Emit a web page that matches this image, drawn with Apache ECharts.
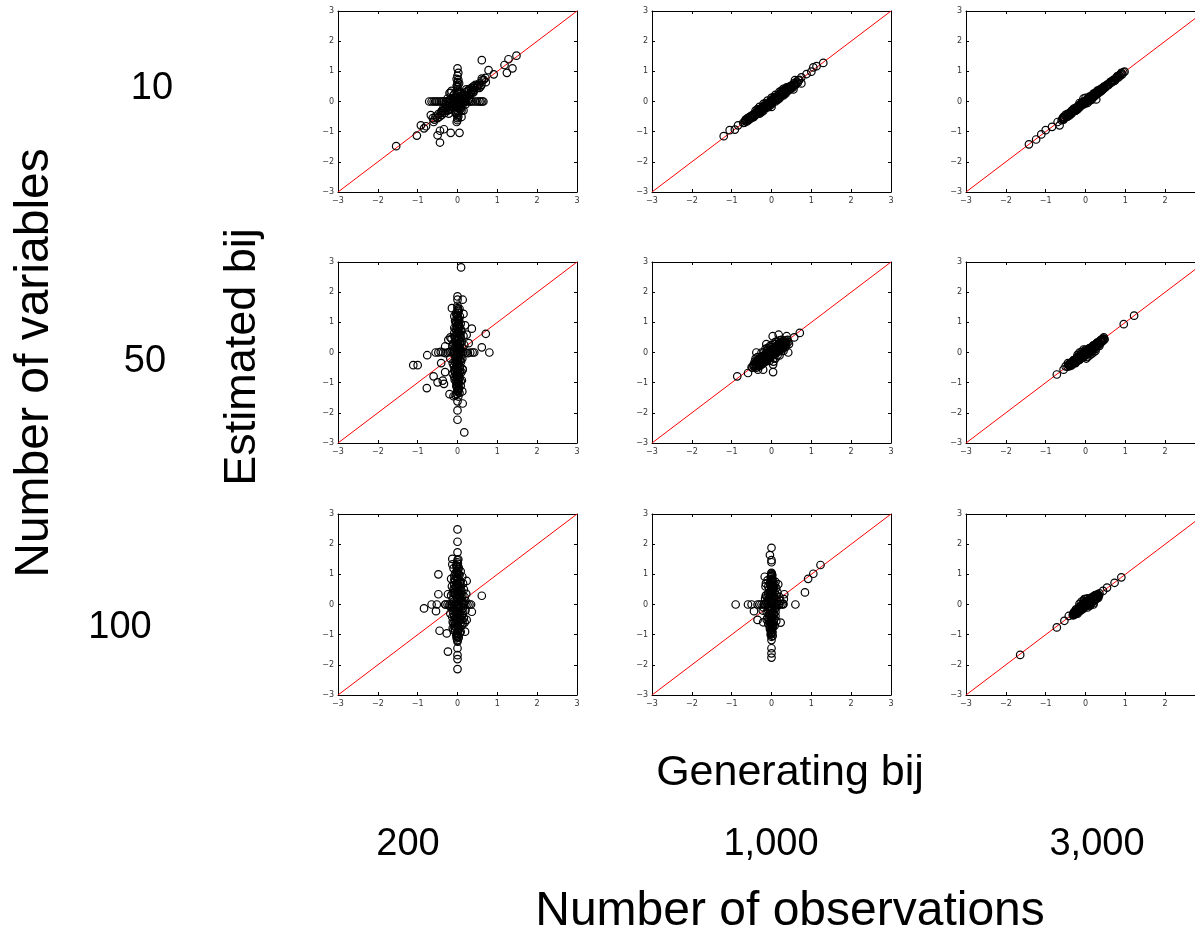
<!DOCTYPE html>
<html>
<head>
<meta charset="utf-8">
<script src="https://cdn.jsdelivr.net/npm/echarts@6/dist/echarts.min.js"></script>
<style>html,body{margin:0;padding:0;background:#fff}#c{width:1195px;height:930px}</style>
</head>
<body>
<div id="c"></div>
<script>
// ---- labels ----
var rowLabels = ['10', '50', '100'];
var colLabels = ['200', '1,000', '3,000'];
var tickValues = [-3, -2, -1, 0, 1, 2, 3];
var diagLine = [[-3, -3], [3, 3]];

// ---- panel data: [generating bij, estimated bij] ----
var p10_200 = [
[-1.54,-1.48],[-1.02,-1.13],[-0.92,-0.79],[-0.79,-0.82],[-0.84,-0.89],[-0.6,-0.68],[-0.67,-0.45],[-0.5,-1.12],[-0.44,-1.36],[-0.44,-0.97],[-0.34,-0.92],[-0.17,-1.04],[0.05,-1.04],[0.1,-0.51],[-0.02,-0.68],[0.61,1.37],[0.78,1.04],[0.91,0.9],[1.18,1.21],[1.28,1.4],[1.48,1.52],[1.24,0.95],[1.38,1.1],[0.61,0.76],[0.71,0.64],[0.65,0],[0.49,0.51],
[0,1.1],[0,0.85],[0,0.64],[0,0.47],[0,0.35],[0,0.25],[0,-0.3],[0,-0.45],[0,-0.55],[0,-0.62],[0.02,0.95],[-0.02,0.75],
[-0.71,0],[-0.6,0],[-0.52,0],[-0.47,0],[-0.42,0],[-0.35,0],[-0.3,0],[-0.25,0],[-0.2,0],[-0.15,0],[-0.1,0],[0.1,0],[0.15,0],[0.2,0],[0.25,0],[0.3,0],[0.38,0],[0.45,0],[0.55,0],[0.62,0],
[-0.55,-0.5],[-0.48,-0.42],[-0.4,-0.45],[-0.38,-0.3],[-0.32,-0.38],[-0.3,-0.2],[-0.25,-0.3],[-0.22,-0.15],[-0.18,-0.25],[-0.15,-0.1],[-0.12,-0.2],[-0.1,-0.05],[-0.08,0.1],[-0.05,-0.12],[-0.03,0.05],[0.03,-0.05],[0.05,0.12],[0.08,0.02],[0.1,0.18],[0.12,0.08],[0.15,0.25],[0.18,0.12],[0.2,0.3],[0.22,0.18],[0.25,0.35],[0.28,0.22],[0.3,0.4],[0.33,0.28],[0.35,0.45],[0.38,0.3],[0.4,0.5],[0.42,0.38],[0.45,0.55],[0.5,0.45],[0.55,0.6],[0.58,0.5],[-0.2,0.28],[-0.17,0.29],[0.1,-0.3],[0.12,-0.15],[-0.1,0.2],[0.05,0.3],[0.05,-0.25],[-0.05,-0.35],[0.2,-0.1],[-0.25,0.1],[0.3,0.1],[-0.3,-0.1],
[-0.05,0.02],[0.02,0.08],[-0.08,-0.08],[0.06,-0.1],[-0.12,0.05],[0.1,0.05],[-0.02,-0.18],[0.0,0.15],[-0.15,-0.18],[0.15,0.12],[-0.2,-0.05],[0.18,0.02],[-0.1,0.12],[0.08,-0.18],[-0.25,-0.22],[0.25,0.2],[-0.28,0.0],[0.28,0.05],[0.0,-0.08],[0.0,0.05],[-0.03,0.2],[0.03,-0.22],[-0.35,-0.32],[0.35,0.32],[-0.42,-0.38],[0.42,0.45],[0.48,0.5],[0.52,0.55],[-0.5,-0.55],[-0.45,-0.5],[0,0.55],[0,0.4],[0,-0.2],[0.04,0.6],[-0.04,-0.4],[0.62,0.7],[0.66,0.72],[0.7,0.78],[-0.58,-0.6],[-0.62,-0.55],[0.55,0.45],[0.6,0.55],[-0.15,0.35],[0.15,-0.3],[0.22,0.4],[-0.22,-0.4],
[-0.06,0.1],[0.06,0.0],[-0.1,-0.12],[0.12,-0.06],[-0.18,0.08],[0.18,0.2],[-0.22,-0.28],[0.22,0.1],[0.0,0.28],[0.0,-0.15],[-0.08,0.25],[0.08,-0.25],[-0.3,-0.28],[0.3,0.25],[-0.35,-0.2],[0.35,0.38],[-0.4,-0.32],[0.4,0.3],[0.02,0.72],[-0.02,0.52],[0.02,-0.5],[0,-0.38],[-0.65,0],[-0.56,0],[0.5,0],[0.58,0],[0.34,0],[-0.38,0]
];
var p10_1000 = [
[-1.2,-1.15],[-1.05,-0.95],[-0.92,-0.93],[-0.84,-0.79],[-0.71,-0.71],[0.55,0.4],[0.59,0.71],[0.75,0.6],[0.75,0.8],[0.88,0.91],[1.0,0.99],[1.05,1.13],[1.13,1.17],[1.3,1.28],[0,-0.18],[0.38,0.47],
[-0.68,-0.7],[-0.65,-0.6],[-0.62,-0.66],[-0.6,-0.55],[-0.57,-0.6],[-0.54,-0.5],[-0.52,-0.56],[-0.49,-0.46],[-0.47,-0.52],[-0.44,-0.42],[-0.42,-0.47],[-0.39,-0.36],[-0.37,-0.42],[-0.34,-0.31],[-0.32,-0.37],[-0.29,-0.26],[-0.27,-0.32],[-0.24,-0.2],[-0.22,-0.27],[-0.19,-0.15],[-0.17,-0.22],[-0.14,-0.1],[-0.12,-0.17],[-0.09,-0.05],[-0.07,-0.12],[-0.04,0.0],[-0.02,-0.07],[0.0,0.05],[0.02,-0.03],[0.05,0.1],[0.07,0.02],[0.1,0.15],[0.12,0.07],[0.15,0.2],[0.17,0.11],[0.2,0.25],[0.22,0.16],[0.25,0.3],[0.27,0.21],[0.3,0.35],[0.32,0.26],[0.35,0.4],[0.37,0.31],[0.4,0.45],[0.42,0.36],[0.45,0.49],[0.48,0.42],[0.5,0.53],[0.53,0.46],[0.56,0.6],[0.6,0.55],[0.63,0.66],[0.66,0.62],[0.7,0.72],
[-0.66,-0.65],[-0.58,-0.62],[-0.55,-0.55],[-0.5,-0.5],[-0.45,-0.47],[-0.4,-0.4],[-0.36,-0.38],[-0.31,-0.29],[-0.26,-0.28],[-0.21,-0.19],[-0.16,-0.18],[-0.11,-0.09],[-0.06,-0.08],[-0.01,0.01],[0.04,0.02],[0.09,0.1],[0.14,0.12],[0.19,0.2],[0.24,0.22],[0.29,0.3],[0.34,0.32],[0.39,0.4],[0.44,0.42],[0.49,0.5],[0.55,0.52],[-0.3,-0.4],[-0.2,-0.3],[-0.1,-0.2],[0.0,-0.1],[0.1,0.0],[0.2,0.1],[0.3,0.2],[-0.4,-0.3],[-0.3,-0.18],[-0.2,-0.08],[-0.1,0.03],[0.0,0.12],[0.1,0.22],[0.2,0.32],[0.3,0.42],[0.62,0.58],[0.68,0.7],
[-0.63,-0.6],[-0.53,-0.52],[-0.43,-0.44],[-0.33,-0.34],[-0.23,-0.24],[-0.13,-0.13],[-0.03,-0.04],[0.07,0.06],[0.17,0.17],[0.27,0.26],[0.37,0.37],[0.47,0.46],[0.57,0.56],[-0.35,-0.25],[-0.15,-0.05],[0.05,0.15],[0.25,0.36],[-0.25,-0.35],[-0.05,-0.15],[0.15,0.05],[0.35,0.26],[0.45,0.4],[-0.45,-0.52]
];
var p10_3000 = [
[-1.42,-1.42],[-1.24,-1.26],[-1.11,-1.09],[-1.0,-0.95],[-0.84,-0.84],[-0.7,-0.68],[-0.65,-0.79],[0.27,0.07],[0.98,0.99],[0.85,0.87],
[-0.6,-0.62],[-0.57,-0.55],[-0.54,-0.57],[-0.5,-0.49],[-0.47,-0.5],[-0.44,-0.42],[-0.41,-0.44],[-0.38,-0.36],[-0.35,-0.38],[-0.32,-0.3],[-0.29,-0.32],[-0.26,-0.23],[-0.23,-0.26],[-0.2,-0.17],[-0.17,-0.2],[-0.14,-0.11],[-0.11,-0.14],[-0.08,-0.05],[-0.05,-0.08],[-0.02,0.01],[0.01,-0.02],[0.04,0.07],[0.07,0.03],[0.1,0.13],[0.13,0.09],[0.16,0.19],[0.19,0.15],[0.22,0.25],[0.25,0.21],[0.28,0.31],[0.31,0.27],[0.34,0.37],[0.37,0.33],[0.4,0.43],[0.43,0.39],[0.46,0.49],[0.5,0.47],[0.54,0.56],[0.58,0.55],[0.62,0.64],[0.66,0.63],[0.7,0.72],[0.74,0.7],[0.78,0.8],[0.82,0.79],[0.88,0.9],[0.92,0.9],[0.95,0.97],[-0.05,0.1],[0.0,0.12],[0.05,-0.05],[0.15,0.05],[-0.15,-0.05],
[-0.58,-0.58],[-0.52,-0.53],[-0.46,-0.46],[-0.4,-0.39],[-0.34,-0.34],[-0.28,-0.27],[-0.22,-0.22],[-0.16,-0.15],[-0.1,-0.1],[-0.04,-0.03],[0.02,0.03],[0.08,0.08],[0.14,0.15],[0.2,0.2],[0.26,0.26],[0.32,0.32],[0.38,0.39],[0.44,0.44],[0.52,0.52],[0.6,0.6],[0.68,0.68],[0.76,0.76],[-0.3,-0.24],[-0.2,-0.26],[-0.1,-0.04],[0.0,-0.06],[0.1,0.16],[0.2,0.14],[0.3,0.36],[0.4,0.35],[-0.4,-0.46],[-0.5,-0.44],[0.1,0.03],[0.2,0.26],[-0.25,-0.3],[0.35,0.3],[0.9,0.95],[0.86,0.84],[0.8,0.84],[0.72,0.68],
[-0.55,-0.51],[-0.45,-0.41],[-0.35,-0.31],[-0.25,-0.21],[-0.15,-0.11],[-0.05,-0.01],[0.05,0.09],[0.15,0.19],[0.25,0.29],[0.35,0.39],[0.45,0.47],[-0.55,-0.6],[-0.45,-0.5],[-0.35,-0.4],[-0.25,-0.3],[-0.15,-0.2],[-0.05,-0.1],[0.05,0.0],[0.15,0.1],[0.25,0.2],[0.35,0.34],[0.45,0.42],[0.56,0.54],[0.64,0.66]
];
var p50_200 = [
[0.09,2.82],[0,1.86],[0,1.75],[0.13,1.75],[-0.14,1.47],[0,1.47],[0.15,1.28],[0.19,0.9],[0.36,0.79],[0.71,0.62],[0.61,0.17],[0.8,0],[-0.76,-0.09],[-1.11,-0.42],[-1.0,-0.42],[-0.6,-0.79],[-0.77,-1.18],[-0.5,-0.99],[-0.37,-0.93],[-0.34,-1.04],[-0.31,-0.65],[-0.41,-0.35],[-0.2,-1.38],[-0.1,-1.45],[0,-1.62],[0.13,-1.69],[0,-1.92],[0,-2.23],[0.17,-2.65],[0.12,-1.29],[0.11,-0.92],[0.13,-0.57],[-0.23,0.42],[-0.18,0.5],[0.23,0.59],[0.28,0.31],[-0.31,0.2],
[0,1.55],[0.03,1.38],[-0.02,1.25],[0.02,1.15],[0,1.05],[-0.04,0.97],[0.04,0.9],[0,0.82],[-0.03,0.75],[0.03,0.68],[0.06,0.6],[-0.06,0.55],[0,0.5],[0.04,0.43],[-0.03,0.38],[0.02,0.32],[0.07,0.27],[-0.05,0.22],[0,0.17],[0.04,0.12],[-0.02,0.08],[0.05,0.04],[-0.06,-0.04],[0.02,-0.08],[0,-0.13],[-0.04,-0.18],[0.05,-0.23],[0.01,-0.28],[-0.05,-0.33],[0.03,-0.38],[0,-0.44],[0.06,-0.5],[-0.03,-0.55],[0.02,-0.62],[0,-0.68],[-0.04,-0.75],[0.04,-0.82],[0,-0.9],[0.02,-0.98],[-0.02,-1.06],[0,-1.14],[0.03,-1.22],[0,-1.3],[-0.02,-1.38],[0.02,-1.46],[0.08,0.95],[0.1,0.7],[-0.08,0.65],[0.1,0.35],[-0.1,0.3],[0.09,-0.3],[-0.09,-0.45],[0.1,-0.65],[-0.07,-0.9],[0.08,-1.1],[0.06,1.2],[-0.06,1.05],[0.15,0.55],[-0.15,0.45],[0.13,-0.55],[-0.12,-0.7],[0.17,0.25],[-0.18,-0.2],
[-0.55,0],[-0.48,0],[-0.42,0.02],[-0.36,0],[-0.3,-0.02],[-0.25,0],[-0.2,0.02],[-0.15,0],[-0.1,-0.02],[0.1,0],[0.15,0.02],[0.2,0],[0.26,-0.02],[0.32,0],[0.38,0],[0.42,0],
[0.01,1.32],[-0.01,1.2],[0.04,1.1],[-0.03,1.0],[0.01,0.93],[0.05,0.85],[-0.05,0.78],[0.02,0.72],[-0.01,0.64],[0.07,0.58],[-0.07,0.5],[0.03,0.46],[-0.02,0.42],[0.06,0.35],[-0.04,0.3],[0.01,0.25],[-0.06,0.15],[0.06,0.1],[0.02,0.02],[-0.02,-0.02],[0.05,-0.1],[-0.05,-0.15],[0.01,-0.2],[0.07,-0.26],[-0.07,-0.3],[0.03,-0.35],[-0.02,-0.42],[0.05,-0.46],[-0.05,-0.52],[0.01,-0.58],[0.06,-0.64],[-0.06,-0.66],[0.02,-0.72],[-0.02,-0.8],[0.05,-0.86],[-0.04,-0.95],[0.03,-1.02],[-0.03,-1.12],[0.04,-1.18],[-0.01,-1.26],[0.05,-1.34],[0.01,1.42],[-0.04,1.3],[0.08,0.5],[-0.1,0.1],[0.1,-0.1],[-0.08,-0.6],[0.12,0.15],[-0.12,0.2],[0.12,-0.2],[-0.12,-0.35],
[0.0,1.18],[0.02,1.08],[-0.02,0.88],[0.0,0.78],[0.03,0.62],[-0.03,0.46],[0.0,0.3],[0.02,0.2],[-0.02,0.14],[0.0,0.06],[0.0,-0.05],[0.02,-0.16],[-0.02,-0.25],[0.0,-0.35],[0.02,-0.48],[-0.02,-0.6],[0.0,-0.78],[0.02,-0.93],[-0.02,-1.0],[0.0,-1.1],[0.02,-1.28],[-0.08,0.82],[0.08,0.78],[-0.09,0.0],[0.09,0.05],[-0.08,-0.8],[0.08,-0.95],[-0.08,1.2],[0.05,1.45],[-0.05,-1.42]
];
var p50_1000 = [
[-0.86,-0.79],[-0.59,-0.68],[-0.5,-0.49],[-0.38,0],[-0.34,-0.57],[-0.21,-0.57],[0.04,-0.65],[0.04,-0.4],[-0.13,0.28],[0.03,0.54],[0.18,0.59],[0.42,0],[0.44,0.28],[0.57,0.5],[0.71,0.65],[0.38,0.54],
[-0.48,-0.5],[-0.45,-0.4],[-0.42,-0.47],[-0.4,-0.33],[-0.38,-0.42],[-0.35,-0.28],[-0.33,-0.38],[-0.3,-0.22],[-0.3,-0.45],[-0.28,-0.32],[-0.25,-0.15],[-0.25,-0.4],[-0.22,-0.25],[-0.2,-0.1],[-0.2,-0.35],[-0.18,-0.2],[-0.15,-0.05],[-0.15,-0.3],[-0.12,-0.14],[-0.1,0.0],[-0.1,-0.25],[-0.08,-0.08],[-0.05,0.05],[-0.05,-0.18],[-0.03,-0.03],[0,0.1],[0,-0.12],[0.02,0.02],[0.05,0.15],[0.05,-0.08],[0.07,0.06],[0.1,0.2],[0.1,-0.03],[0.12,0.1],[0.15,0.25],[0.15,0.02],[0.17,0.14],[0.2,0.3],[0.2,0.07],[0.22,0.18],[0.25,0.33],[0.25,0.12],[0.28,0.22],[0.3,0.38],[0.3,0.17],[0.33,0.27],[0.35,0.4],[0.37,0.3],[0.4,0.42],[0.42,0.35],[-0.35,-0.15],[-0.25,0.0],[-0.15,0.12],[0.1,-0.2],[0.2,-0.1],[0.3,0.05],[-0.4,-0.2],[0,0.25],[0.05,-0.3],[-0.1,0.15],[0.25,0.42],[0.35,0.18],
[-0.4,-0.4],[-0.35,-0.35],[-0.3,-0.3],[-0.25,-0.25],[-0.2,-0.2],[-0.15,-0.15],[-0.1,-0.1],[-0.05,-0.05],[0,0],[0.05,0.05],[0.1,0.1],[0.15,0.15],[0.2,0.2],[0.25,0.25],[0.3,0.3],[0.35,0.33],[-0.42,-0.3],[-0.32,-0.2],[-0.22,-0.12],[-0.12,-0.03],[-0.02,0.07],[0.08,0.15],[0.18,0.23],[0.28,0.32],[-0.38,-0.5],[-0.28,-0.4],[-0.18,-0.3],[-0.08,-0.2],[0.02,-0.08],[0.12,0.02],[0.22,0.1],[0.32,0.2],[-0.1,0.08],[0.0,0.18],[0.1,0.28],[-0.2,0.0],[0.15,-0.1],[0.05,-0.2],[-0.05,-0.28],[0.25,0.05],
[-0.45,-0.45],[-0.37,-0.32],[-0.27,-0.22],[-0.17,-0.12],[-0.07,-0.02],[0.03,0.08],[0.13,0.18],[0.23,0.28],[0.33,0.36],[-0.33,-0.45],[-0.23,-0.35],[-0.13,-0.25],[-0.03,-0.15],[0.07,-0.05],[0.17,0.05],[0.27,0.15],[0.37,0.25],[-0.05,0.2],[0.1,0.35],[0.2,0.4]
];
var p50_3000 = [
[-0.72,-0.73],[-0.55,-0.57],[-0.5,-0.46],[-0.44,-0.35],[0.02,-0.2],[0.46,0.5],[0.96,0.94],[1.22,1.22],
[-0.45,-0.47],[-0.42,-0.4],[-0.4,-0.45],[-0.37,-0.35],[-0.35,-0.4],[-0.32,-0.3],[-0.3,-0.36],[-0.27,-0.25],[-0.25,-0.32],[-0.22,-0.2],[-0.2,-0.27],[-0.17,-0.15],[-0.15,-0.22],[-0.12,-0.1],[-0.1,-0.17],[-0.07,-0.05],[-0.05,-0.12],[-0.02,0.0],[0,-0.07],[0.03,0.05],[0.05,-0.02],[0.08,0.1],[0.1,0.03],[0.13,0.15],[0.15,0.08],[0.18,0.2],[0.2,0.13],[0.23,0.25],[0.25,0.18],[0.28,0.3],[0.3,0.23],[0.33,0.35],[0.35,0.28],[0.38,0.4],[0.4,0.34],[0.43,0.45],[0.45,0.4],[0.1,-0.1],[0.2,0.0],[-0.1,0.02],[0.0,0.1],[-0.2,-0.08],
[-0.43,-0.42],[-0.38,-0.37],[-0.33,-0.32],[-0.28,-0.28],[-0.23,-0.22],[-0.18,-0.18],[-0.13,-0.13],[-0.08,-0.08],[-0.03,-0.03],[0.02,0.02],[0.07,0.06],[0.12,0.12],[0.17,0.16],[0.22,0.21],[0.27,0.26],[0.32,0.31],[0.37,0.36],[0.42,0.41],[-0.3,-0.25],[-0.2,-0.14],[-0.1,-0.04],[0.0,0.06],[0.1,0.15],[0.2,0.24],[0.3,0.33],[-0.35,-0.43],[-0.25,-0.35],[-0.15,-0.25],[-0.05,-0.16],[0.05,-0.06],[0.15,0.03],[0.25,0.12],[0.35,0.22],[0.05,-0.15],[0.15,-0.05],[0.25,0.05],[-0.15,0.0],[-0.05,0.1],[0.45,0.46],[0.48,0.44],
[-0.41,-0.38],[-0.31,-0.28],[-0.21,-0.18],[-0.11,-0.08],[-0.01,0.02],[0.09,0.12],[0.19,0.22],[0.29,0.32],[0.39,0.42],[-0.39,-0.44],[-0.29,-0.34],[-0.19,-0.24],[-0.09,-0.14],[0.01,-0.04],[0.11,0.06],[0.21,0.16],[0.31,0.26],[0.41,0.37]
];
var p100_200 = [
[0,2.49],[0,2.08],[0,1.73],[0,1.47],[-0.13,1.51],[-0.13,1.33],[-0.48,1.0],[0.23,0.78],[-0.48,0.34],[-0.24,0.34],[0.61,0.29],[-0.65,0],[-0.52,0],[-0.84,-0.13],[-0.54,-0.22],[0.34,0],[0.36,-0.24],[0.23,-0.51],[-0.45,-0.87],[-0.27,-0.96],[0.19,-0.9],[-0.24,-1.56],[0,-1.23],[0,-1.45],[0,-1.68],[0,-1.81],[0,-2.14],[-0.31,0],
[0,1.4],[-0.03,1.3],[0.03,1.22],[0,1.12],[-0.05,1.05],[0.05,0.98],[0,0.9],[-0.08,0.82],[0.08,0.76],[0,0.7],[-0.04,0.62],[0.04,0.56],[-0.1,0.5],[0.1,0.45],[0,0.4],[-0.06,0.33],[0.06,0.28],[0,0.22],[-0.12,0.18],[0.12,0.12],[-0.03,0.08],[0.04,0.03],[-0.08,-0.03],[0.09,-0.08],[0,-0.12],[-0.05,-0.18],[0.05,-0.24],[-0.1,-0.3],[0.11,-0.35],[0,-0.4],[-0.06,-0.46],[0.06,-0.52],[-0.12,-0.58],[0.13,-0.63],[0,-0.68],[-0.05,-0.75],[0.05,-0.8],[-0.1,-0.85],[0.08,-0.9],[0,-0.96],[-0.03,-1.03],[0.03,-1.1],[0,-1.18],[0.15,0.05],[-0.15,-0.1],[0.16,-0.45],[-0.16,0.3],[0.2,-0.2],[-0.14,0.6],[0.14,0.7],[-0.12,-0.78],[0.18,0.25],[0.02,1.5],[-0.02,0.0],[0.07,0.15],[-0.07,-0.55],
[-0.3,0],[-0.25,0],[-0.2,0],[-0.15,0],[0.15,0],[0.2,0],[0.25,0],[0.3,0],
[0.01,1.35],[-0.02,1.25],[0.02,1.17],[-0.01,1.08],[0.03,1.0],[-0.04,0.94],[0.01,0.86],[-0.06,0.78],[0.06,0.72],[-0.02,0.66],[0.02,0.6],[-0.07,0.54],[0.07,0.5],[0.0,0.45],[-0.09,0.4],[0.09,0.36],[-0.03,0.3],[0.03,0.26],[-0.1,0.1],[0.1,0.05],[0.01,-0.05],[-0.1,-0.15],[0.1,-0.2],[-0.02,-0.28],[0.02,-0.33],[-0.08,-0.4],[0.08,-0.44],[-0.01,-0.5],[-0.1,-0.62],[0.1,-0.7],[0.01,-0.78],[-0.06,-0.86],[0.06,-0.94],[0.0,-1.05],[-0.02,-1.12],[0.12,0.3],[-0.12,0.38],[0.14,-0.12],[-0.14,0.0],[0.13,-0.28],[-0.13,-0.42],[0.12,0.92],[-0.1,1.2],[0.2,0.12],[-0.2,-0.05],[0.22,0.35],[0.18,-0.6],[-0.18,-0.3],[0.16,0.5],[-0.16,0.85],
[0.0,1.28],[0.0,1.02],[0.0,0.8],[0.02,0.64],[-0.02,0.48],[0.0,0.35],[0.02,0.18],[-0.02,0.12],[0.0,0.02],[0.02,-0.1],[-0.02,-0.22],[0.0,-0.3],[0.02,-0.45],[-0.02,-0.6],[0.0,-0.72],[0.02,-0.88],[-0.02,-0.98],[0.0,-1.08],[-0.08,0.95],[0.08,1.1],[-0.08,0.65],[0.08,0.6],[-0.08,-0.7],[0.08,-0.6],[-0.12,-0.2],[0.12,-0.5]
];
var p100_1000 = [
[-0.9,0],[-0.59,0],[-0.5,0],[-0.44,-0.22],[-0.35,-0.51],[-0.21,-0.59],[0.23,-0.6],[0.17,0.67],[0,1.88],[-0.04,1.64],[0,1.47],[0,1.4],[-0.17,0.92],[0,1.03],[-0.14,0.7],[0.6,0],[0.84,0.4],[0.92,0.85],[1.05,1.02],[1.23,1.31],[0,-1.18],[0,-1.45],[0,-1.62],[0,-1.76],[0.29,0],[0.31,0.18],[0.32,0.34],[-0.14,0.29],
[0,1.05],[0.02,0.97],[-0.02,0.9],[0,0.83],[0.04,0.76],[-0.04,0.7],[0,0.63],[0.06,0.57],[-0.06,0.5],[0,0.45],[0.08,0.4],[-0.08,0.35],[0.03,0.3],[-0.03,0.25],[0.1,0.2],[-0.1,0.15],[0,0.1],[0.05,0.05],[-0.05,-0.05],[0,-0.1],[0.08,-0.15],[-0.08,-0.2],[0.03,-0.26],[-0.03,-0.32],[0.1,-0.38],[-0.1,-0.43],[0,-0.48],[0.05,-0.55],[-0.05,-0.6],[0,-0.67],[0.04,-0.73],[-0.04,-0.8],[0,-0.86],[0.02,-0.93],[-0.02,-1.0],[0,-1.07],[0.12,0.55],[-0.12,-0.25],[0.14,0.1],[-0.14,0.3],[0.12,-0.55],[-0.15,0.6],[0.2,0.25],[-0.2,-0.1],
[-0.35,0],[-0.3,0],[-0.25,0],[-0.2,0],[-0.15,0],[0.15,0],[0.2,0],[0.25,0],[0.3,0.02],
[0.01,1.0],[-0.01,0.93],[0.02,0.86],[-0.02,0.79],[0.01,0.72],[-0.03,0.66],[0.03,0.6],[-0.01,0.54],[0.04,0.48],[-0.04,0.42],[0.01,0.36],[0.06,0.28],[-0.06,0.22],[0.02,0.18],[-0.02,0.12],[0.08,0.08],[-0.08,0.04],[0.01,0.0],[0.08,-0.05],[-0.08,-0.1],[0.02,-0.16],[-0.02,-0.22],[0.06,-0.3],[-0.06,-0.36],[0.01,-0.42],[0.07,-0.47],[-0.07,-0.52],[0.02,-0.58],[-0.02,-0.64],[0.03,-0.7],[-0.03,-0.76],[0.01,-0.83],[0.02,-0.9],[-0.01,-0.97],[0.03,-1.04],[0.12,0.3],[-0.12,0.05],[0.12,-0.1],[-0.12,-0.5],[0.15,0.4],[-0.16,0.2],[0.1,0.75],[-0.1,0.8],[0.18,0.0],[-0.18,0.0],[0.22,0.12],[-0.22,-0.2],
[0.0,0.95],[0.0,0.75],[0.0,0.55],[0.02,0.4],[-0.02,0.32],[0.0,0.2],[0.02,0.05],[-0.02,-0.05],[0.0,-0.2],[0.02,-0.35],[-0.02,-0.45],[0.0,-0.6],[0.02,-0.78],[-0.02,-0.88],[0.0,-0.95],[-0.08,0.6],[0.08,0.65],[-0.08,-0.65],[0.08,-0.7],[-0.1,0.25],[0.1,-0.25]
];
var p100_3000 = [
[-1.64,-1.67],[-0.72,-0.76],[-0.53,-0.54],[-0.42,-0.38],[-0.3,-0.35],[0.44,0.45],[0.54,0.56],[0.73,0.72],[0.9,0.9],[-0.03,0.18],[0.31,0.34],
[-0.32,-0.35],[-0.3,-0.28],[-0.27,-0.32],[-0.25,-0.22],[-0.22,-0.27],[-0.2,-0.16],[-0.18,-0.22],[-0.15,-0.1],[-0.13,-0.17],[-0.1,-0.04],[-0.08,-0.12],[-0.05,0.02],[-0.03,-0.07],[0,0.07],[0.02,-0.02],[0.05,0.12],[0.07,0.03],[0.1,0.17],[0.12,0.08],[0.15,0.22],[0.17,0.13],[0.2,0.27],[0.22,0.18],[0.25,0.31],[0.27,0.22],[0.3,0.33],[0.32,0.27],[0.35,0.37],[-0.1,0.1],[0.0,0.18],[0.1,-0.05],[0.2,0.05],[-0.2,-0.3],[0.05,-0.1],
[-0.3,-0.31],[-0.26,-0.26],[-0.22,-0.22],[-0.18,-0.18],[-0.14,-0.14],[-0.1,-0.1],[-0.06,-0.06],[-0.02,-0.02],[0.02,0.02],[0.06,0.06],[0.1,0.1],[0.14,0.14],[0.18,0.18],[0.22,0.22],[0.26,0.26],[0.3,0.28],[-0.24,-0.16],[-0.16,-0.08],[-0.08,0.0],[0.0,0.1],[0.08,0.16],[0.16,0.24],[0.24,0.3],[-0.24,-0.3],[-0.16,-0.24],[-0.08,-0.16],[0.0,-0.06],[0.08,0.0],[0.16,0.08],[0.24,0.14],[0.32,0.22],[0.12,-0.02],[-0.05,0.12],[0.05,0.2],[0.2,0.0],[-0.15,0.02],
[-0.28,-0.24],[-0.2,-0.2],[-0.12,-0.08],[-0.04,-0.02],[0.04,0.08],[0.12,0.14],[0.2,0.2],[0.28,0.3],[-0.28,-0.34],[-0.12,-0.2],[-0.04,-0.12],[0.04,-0.02],[0.12,0.04],[0.2,0.12],[0.28,0.2],[0.34,0.3]
];

var panels = [
  [p10_200, p10_1000, p10_3000],
  [p50_200, p50_1000, p50_3000],
  [p100_200, p100_1000, p100_3000]
];

// ---- layout ----
var colLeft = [338, 652, 966];
var rowTop = [11, 262, 514];
var pw = 239, ph = 181;

var grids = [], xAxes = [], yAxes = [], series = [];
function fmt(v) { return String(v).replace('-', '\u2212'); }
var labelStyle = { fontSize: 8, color: '#333', fontFamily: 'DejaVu Sans', formatter: fmt };
var lineStyle = { color: '#000', width: 1 };

for (var r = 0; r < 3; r++) {
  for (var c = 0; c < 3; c++) {
    var gi = grids.length;
    grids.push({ left: colLeft[c], top: rowTop[r], width: pw, height: ph, containLabel: false, outerBoundsMode: 'none' });
    var base = { type: 'value', min: tickValues[0], max: tickValues[tickValues.length - 1], interval: 1, gridIndex: gi, splitLine: { show: false },
      axisLine: { show: true, onZero: false, lineStyle: lineStyle },
      axisTick: { show: true, inside: true, length: 3, lineStyle: lineStyle } };
    xAxes.push(Object.assign({}, base, { position: 'bottom', axisLabel: Object.assign({ margin: 5 }, labelStyle) }));
    xAxes.push(Object.assign({}, base, { position: 'top', axisLabel: { show: false } }));
    yAxes.push(Object.assign({}, base, { position: 'left', axisLabel: Object.assign({ margin: 4 }, labelStyle) }));
    yAxes.push(Object.assign({}, base, { position: 'right', axisLabel: { show: false } }));
    series.push({ type: 'line', xAxisIndex: gi * 2, yAxisIndex: gi * 2, data: diagLine, symbol: 'none',
      lineStyle: { color: '#ff0000', width: 1 }, silent: true, z: 1, animation: false });
    series.push({ type: 'scatter', xAxisIndex: gi * 2, yAxisIndex: gi * 2, data: panels[r][c], symbol: 'circle', symbolSize: 7.5,
      itemStyle: { color: 'rgba(0,0,0,0)', borderColor: '#000', borderWidth: 1.2, opacity: 1 }, silent: true, z: 2, animation: false });
  }
}

var font = 'Liberation Sans, Arial, sans-serif';
var graphics = [];
var rowLabelPos = [[152, 89], [145, 362], [120, 628]];
rowLabels.forEach(function (t, i) {
  graphics.push({ type: 'text', x: rowLabelPos[i][0], y: rowLabelPos[i][1],
    style: { text: t, font: '38px ' + font, fill: '#000', textAlign: 'center', textVerticalAlign: 'middle' } });
});
var colLabelX = [408, 771, 1097];
colLabels.forEach(function (t, i) {
  graphics.push({ type: 'text', x: colLabelX[i], y: 845,
    style: { text: t, font: '38px ' + font, fill: '#000', textAlign: 'center', textVerticalAlign: 'middle' } });
});
graphics.push({ type: 'text', x: 35, y: 363, rotation: Math.PI / 2,
  style: { text: 'Number of variables', font: '48px ' + font, fill: '#000', textAlign: 'center', textVerticalAlign: 'middle' } });
graphics.push({ type: 'text', x: 243, y: 357, rotation: Math.PI / 2,
  style: { text: 'Estimated bij', font: '45px ' + font, fill: '#000', textAlign: 'center', textVerticalAlign: 'middle' } });
graphics.push({ type: 'text', x: 790, y: 773,
  style: { text: 'Generating bij', font: '43px ' + font, fill: '#000', textAlign: 'center', textVerticalAlign: 'middle' } });
graphics.push({ type: 'text', x: 790, y: 912,
  style: { text: 'Number of observations', font: '48px ' + font, fill: '#000', textAlign: 'center', textVerticalAlign: 'middle' } });

var chart = echarts.init(document.getElementById('c'), null, { renderer: 'canvas' });
chart.setOption({
  backgroundColor: '#fff',
  animation: false,
  grid: grids,
  xAxis: xAxes,
  yAxis: yAxes,
  series: series,
  graphic: graphics
});
</script>
</body>
</html>
